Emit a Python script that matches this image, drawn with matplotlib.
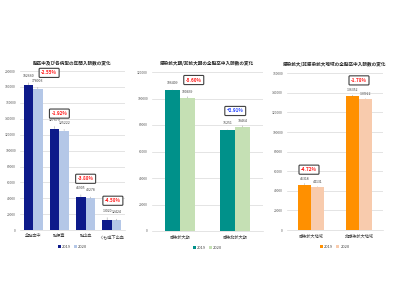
import matplotlib
matplotlib.use("Agg")
import matplotlib.pyplot as plt
import numpy as np

plt.rcParams['font.family'] = ['Noto Sans CJK JP', 'DejaVu Sans']

titles = [
    '脳卒中及び各病型の年間入院数の変化',
    '感染拡大期/非拡大期の全脳卒中入院数の変化',
    '感染拡大/非感染拡大地域の全脳卒中入院数の変化',
]

# chart 1: stroke types
cats1 = ['全脳卒中', '脳梗塞', '脳出血', 'くも膜下出血']
v2019_1 = [182660, 127679, 41905, 13020]
v2020_1 = [178003, 125222, 40278, 12424]
pct1 = ['-2.55%', '-1.92%', '-3.88%', '-4.58%']

# chart 2: periods
cats2 = ['感染拡大期', '感染非拡大期']
v2019_2 = [106409, 76251]
v2020_2 = [100439, 78464]
pct2 = ['-5.60%', '+2.91%']

# chart 3: regions
cats3 = ['感染拡大地域', '非感染拡大地域']
v2019_3 = [46318, 136352]
v2020_3 = [44131, 133922]
pct3 = ['-4.72%', '-1.78%']

years = ['2019', '2020']

# layout / style
axes_rects = [
    [0.05, 0.233, 0.2625, 0.53],
    [0.38, 0.230, 0.2775, 0.53],
    [0.7175, 0.233, 0.24, 0.523],
]
ymax = [200000, 120000, 160000]
ystep = [20000, 20000, 20000]
colors = [('#0d1a8a', '#b4c7e7'), ('#00918a', '#c5e0b4'), ('#ff9000', '#f8cbad')]
widths = [0.36, 0.27, 0.27]
# pixel offsets (centre of text) above the bar tops
lab_dy = [(9, 8), (7, 6), (6, 5)]
box_dx = [[16, 0, 0, 1], [14, 0], [-2, 0]]
box_dy = [[12, 15, 18, 19], [10, 19], [15, 16]]

fig = plt.figure(figsize=(4, 3), dpi=100)

datasets = [(cats1, v2019_1, v2020_1, pct1),
            (cats2, v2019_2, v2020_2, pct2),
            (cats3, v2019_3, v2020_3, pct3)]

for i, (cats, a, b, pcts) in enumerate(datasets):
    ax = fig.add_axes(axes_rects[i])
    x = np.arange(len(cats))
    w = widths[i]
    ax.bar(x - w / 2, a, w, color=colors[i][0], label=years[0])
    ax.bar(x + w / 2, b, w, color=colors[i][1], label=years[1])
    ax.set_ylim(0, ymax[i])
    ax.set_xlim(-0.5, len(cats) - 0.5)
    ax.set_yticks(np.arange(0, ymax[i] + 1, ystep[i]))
    ax.yaxis.set_major_formatter(matplotlib.ticker.FuncFormatter(lambda v, p: f'{int(v)}'))
    ax.tick_params(axis='y', labelsize=2.4, colors='#595959', length=0, pad=3)
    ax.tick_params(axis='x', labelsize=3.0, colors='#404040', length=0, pad=3)
    ax.set_xticks(x)
    ax.set_xticklabels(cats)
    ax.grid(axis='y', color='#d9d9d9', lw=0.5)
    ax.set_axisbelow(True)
    for s in ['top', 'right', 'left']:
        ax.spines[s].set_visible(False)
    ax.spines['bottom'].set_color('#d9d9d9')
    ax.spines['bottom'].set_linewidth(0.5)

    for j in range(len(cats)):
        ax.annotate(str(a[j]), (x[j] - w / 2, a[j]), xytext=(0, lab_dy[i][0]), textcoords='offset pixels',
                    ha='center', va='center', fontsize=2.5, color='#404040',
                    arrowprops=dict(arrowstyle='-', lw=0.3, color='#808080', shrinkA=1.5, shrinkB=0))
        ax.annotate(str(b[j]), (x[j] + w / 2, b[j]), xytext=(0, lab_dy[i][1]), textcoords='offset pixels',
                    ha='center', va='center', fontsize=2.5, color='#404040',
                    arrowprops=dict(arrowstyle='-', lw=0.3, color='#808080', shrinkA=1.5, shrinkB=0))
        col = '#1f3fff' if pcts[j].startswith('+') else '#ff1a1a'
        ax.annotate(pcts[j], (x[j], a[j]), xytext=(box_dx[i][j], box_dy[i][j]),
                    textcoords='offset pixels', ha='center', va='center',
                    fontsize=3.3, fontweight='bold', color=col,
                    bbox=dict(boxstyle='round,pad=0.45,rounding_size=0.2', fc='white',
                              ec='#404040', lw=0.8))

    ax.set_title(titles[i], fontsize=3.3, fontweight='bold', color='#262626', pad=5)
    leg = ax.legend(loc='upper center', bbox_to_anchor=(0.5, -0.07), ncol=2, frameon=False,
                    fontsize=2.9, handlelength=0.7, handleheight=0.7, columnspacing=0.8,
                    handletextpad=0.3)
    for t in leg.get_texts():
        t.set_color('#404040')

fig.savefig('out.png', dpi=100, facecolor='white')
